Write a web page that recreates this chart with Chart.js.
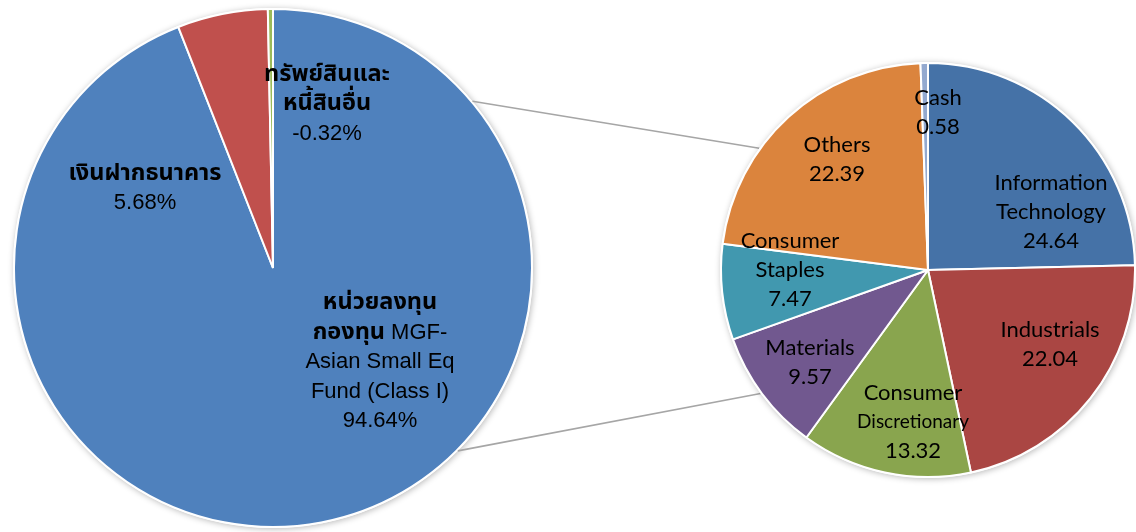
<!DOCTYPE html>
<html>
<head>
<meta charset="utf-8">
<script src="https://cdn.jsdelivr.net/npm/chart.js@4"></script>
<style>
  html, body { margin: 0; padding: 0; background: #fff; }
  #wrap { position: relative; width: 1136px; height: 532px; }
  canvas { position: absolute; left: 0; top: 0; }
</style>
</head>
<body>
<div id="wrap">
  <canvas id="left" width="1136" height="532"></canvas>
  <canvas id="right" width="1136" height="532"></canvas>
</div>
<script>
// ---------- DATA ----------
const leftCategories = [
  ["หน่วยลงทุน", "กองทุน MGF-", "Asian Small Eq", "Fund (Class I)"],
  ["เงินฝากธนาคาร"],
  ["ทรัพย์สินและ", "หนี้สินอื่น"]
];
const leftValues = [94.64, 5.68, -0.32];
const leftValueLabels = ["94.64%", "5.68%", "-0.32%"];

const rightCategories = [
  ["Information", "Technology"],
  ["Industrials"],
  ["Consumer", "Discretionary"],
  ["Materials"],
  ["Consumer", "Staples"],
  ["Others"],
  ["Cash"]
];
const rightValues = [24.64, 22.04, 13.32, 9.57, 7.47, 22.39, 0.58];
const rightValueLabels = ["24.64", "22.04", "13.32", "9.57", "7.47", "22.39", "0.58"];

// ---------- STYLE ----------
const leftColors = ["#4F81BD", "#C0504D", "#9BBB59"];
const rightColors = ["#4572A7", "#AA4643", "#89A54E", "#71588F", "#4198AF", "#DB843D", "#93A9CF"];

const THAI_RE = /([\u0E00-\u0E7F]+)/;

function drawMixedLine(ctx, text, cx, cy, size, thaiSize, family, thaiBold) {
  const parts = text.split(THAI_RE).filter(s => s.length);
  const fonts = parts.map(p => THAI_RE.test(p)
    ? (thaiBold ? "bold " : "") + thaiSize + "px " + family
    : size + "px " + family);
  let total = 0;
  const widths = parts.map((p, i) => { ctx.font = fonts[i]; const w = ctx.measureText(p).width; total += w; return w; });
  let x = cx - total / 2;
  ctx.textAlign = "left";
  ctx.textBaseline = "middle";
  parts.forEach((p, i) => { ctx.font = fonts[i]; ctx.fillText(p, x, cy); x += widths[i]; });
}

const shadowPlugin = {
  id: "pieShadow",
  beforeDatasetsDraw(chart) {
    const arc = chart.getDatasetMeta(0).data[0];
    if (!arc) return;
    const ctx = chart.ctx;
    ctx.save();
    ctx.shadowColor = "rgba(0,0,0,0.28)";
    ctx.shadowBlur = 6;
    ctx.shadowOffsetX = 1;
    ctx.shadowOffsetY = 1;
    ctx.fillStyle = "#fff";
    ctx.beginPath();
    ctx.arc(arc.x, arc.y, arc.outerRadius + 1, 0, Math.PI * 2);
    ctx.fill();
    ctx.restore();
  }
};

const labelPlugin = {
  id: "sliceLabels",
  afterDatasetsDraw(chart, args, opts) {
    const meta = chart.getDatasetMeta(0);
    const arc0 = meta.data[0];
    const ctx = chart.ctx;
    ctx.save();
    ctx.fillStyle = "#000";
    opts.cats.forEach((lines, i) => {
      const all = lines.concat([opts.values[i]]);
      const off = opts.offsets[i];
      const cx = arc0.x + off[0];
      const cy = arc0.y + off[1];
      const n = all.length;
      all.forEach((t, k) => {
        const y = cy + (k - (n - 1) / 2) * opts.lineHeight;
        const size = (opts.sizeOverride && opts.sizeOverride[t]) || opts.size;
        drawMixedLine(ctx, t, cx, y, size, opts.thaiSize || size, opts.family, opts.thaiBold);
      });
    });
    ctx.restore();
  }
};

const leftChart = new Chart(document.getElementById("left"), {
  type: "pie",
  data: {
    labels: leftCategories.map(l => l.join(" ")),
    datasets: [{
      data: leftValues,
      backgroundColor: leftColors,
      borderColor: "#ffffff",
      borderWidth: 2
    }]
  },
  options: {
    responsive: false,
    animation: false,
    radius: 259,
    layout: { padding: { left: 0, right: 590, top: 4, bottom: 0 } },
    plugins: {
      legend: { display: false },
      tooltip: { enabled: false },
      sliceLabels: {
        cats: leftCategories,
        values: leftValueLabels,
        offsets: [[107, 94], [-128, -80], [54, -164]],
        lineHeight: 29.5,
        size: 22,
        thaiSize: 23.5,
        family: "'Liberation Sans', 'Noto Sans Thai', 'Noto Sans', sans-serif",
        thaiBold: true
      }
    }
  },
  plugins: [shadowPlugin, labelPlugin]
});

const connectorPlugin = {
  id: "connectors",
  beforeDatasetsDraw(chart, args, opts) {
    const L = leftChart.getDatasetMeta(0).data[0];
    const R = chart.getDatasetMeta(0).data[0];
    if (!L || !R) return;
    const pt = (a, deg, extra) => {
      const t = deg * Math.PI / 180;
      const r = a.outerRadius + extra;
      return [a.x + r * Math.sin(t), a.y - r * Math.cos(t)];
    };
    const ctx = chart.ctx;
    ctx.save();
    ctx.strokeStyle = "#A6A6A6";
    ctx.lineWidth = 1.6;
    opts.pairs.forEach(([la, ra]) => {
      const p1 = pt(L, la, 1), p2 = pt(R, ra, 1);
      ctx.beginPath();
      ctx.moveTo(p1[0], p1[1]);
      ctx.lineTo(p2[0], p2[1]);
      ctx.stroke();
    });
    ctx.restore();
  }
};

const rightChart = new Chart(document.getElementById("right"), {
  type: "pie",
  data: {
    labels: rightCategories.map(l => l.join(" ")),
    datasets: [{
      data: rightValues,
      backgroundColor: rightColors,
      borderColor: "#ffffff",
      borderWidth: 2
    }]
  },
  options: {
    responsive: false,
    animation: false,
    radius: 207,
    layout: { padding: { left: 720, right: 0, top: 8, bottom: 0 } },
    plugins: {
      legend: { display: false },
      tooltip: { enabled: false },
      connectors: { pairs: [[50.1, 305.8], [134.7, 233.6]] },
      sliceLabels: {
        cats: rightCategories,
        values: rightValueLabels,
        offsets: [[123, -58], [122, 74], [-15, 152], [-118, 92], [-138, 0], [-91, -111], [10, -158]],
        lineHeight: 29,
        size: 22,
        sizeOverride: { "Discretionary": 19 },
        family: "Lato, 'Noto Sans', sans-serif",
        thaiBold: false
      }
    }
  },
  plugins: [connectorPlugin, shadowPlugin, labelPlugin]
});
</script>
</body>
</html>
